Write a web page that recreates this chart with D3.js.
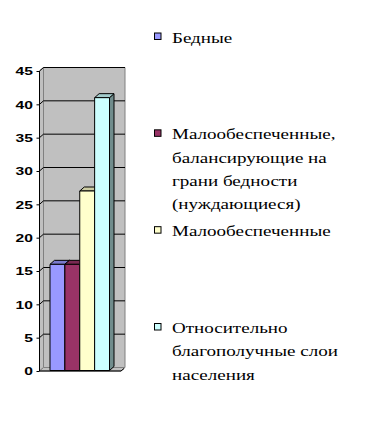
<!DOCTYPE html>
<html>
<head>
<meta charset="utf-8">
<script src="https://cdn.jsdelivr.net/npm/d3@7"></script>
<style>
  html, body { margin: 0; padding: 0; background: #fff; }
  svg { display: block; }
</style>
</head>
<body>
<svg id="chart" width="365" height="443"></svg>
<script>
// series (one category, four groups)
const series = ["Бедные", "Малообеспеченные, балансирующие на грани бедности (нуждающиеся)", "Малообеспеченные", "Относительно благополучные слои населения"];
const legendLines = [
  ["Бедные"],
  ["Малообеспеченные,", "балансирующие на", "грани бедности", "(нуждающиеся)"],
  ["Малообеспеченные"],
  ["Относительно", "благополучные слои", "населения"]
];
const values = [16, 16, 27, 41];
const colors = ["#9999FF", "#993366", "#FFFFCC", "#CCFFFF"];
const yTicks = [0, 5, 10, 15, 20, 25, 30, 35, 40, 45];

const svg = d3.select("#chart");
const SX = 1.36; // the original picture is stretched horizontally

const plot = { x0: 39.5, x1: 121, depthX: 4, depthY: -3.5 };
const y = d3.scaleLinear([0, 45], [371, 71]);
const x = d3.scaleBand(d3.range(series.length), [50, 109.5]).padding(0);

const wallFill = "#C0C0C0", wallStroke = "#808080";
const dx = plot.depthX, dy = plot.depthY;
const line = d3.line();

// back wall
svg.append("path")
  .attr("d", line([[plot.x0 + dx, y(45) + dy], [plot.x1 + dx, y(45) + dy], [plot.x1 + dx, y(0) + dy], [plot.x0 + dx, y(0) + dy]]) + "Z")
  .attr("fill", wallFill).attr("stroke", wallStroke);

// side wall
svg.append("path")
  .attr("d", line([[plot.x0, y(0)], [plot.x0, y(45)], [plot.x0 + dx, y(45) + dy], [plot.x0 + dx, y(0) + dy]]) + "Z")
  .attr("fill", wallFill).attr("stroke", wallStroke);

// floor
svg.append("path")
  .attr("d", line([[plot.x0, y(0)], [plot.x1, y(0)], [plot.x1 + dx, y(0) + dy], [plot.x0 + dx, y(0) + dy]]) + "Z")
  .attr("fill", wallFill).attr("stroke", wallStroke);

// gridlines: slanted on side wall, flat on back wall
const grid = svg.append("g").attr("stroke", "#000").attr("fill", "none");
yTicks.filter(t => t > 0).forEach(t => {
  grid.append("path")
    .attr("d", line([[plot.x0, y(t)], [plot.x0 + dx, y(t) + dy], [plot.x1 + dx, y(t) + dy]]));
});

// bars
const bdx = 4.5, bdy = -4;
const shade = (c, f) => { const r = d3.rgb(c); return d3.rgb(r.r * f, r.g * f, r.b * f).formatHex(); };
const bars = svg.append("g").attr("stroke", "#000").attr("stroke-width", 1).attr("stroke-linejoin", "round");
values.forEach((v, i) => {
  const l = x(i), r = x(i) + x.bandwidth(), t = y(v), b = y(0) - 0.5;
  const g = bars.append("g");
  g.append("path")
    .attr("d", line([[r, b], [r, t], [r + bdx, t + bdy], [r + bdx, b + bdy]]) + "Z")
    .attr("fill", shade(colors[i], 0.55));
  g.append("path")
    .attr("d", line([[l, t], [r, t], [r + bdx, t + bdy], [l + bdx, t + bdy]]) + "Z")
    .attr("fill", shade(colors[i], 0.8));
  g.append("rect")
    .attr("x", l).attr("y", t).attr("width", r - l).attr("height", b - t)
    .attr("fill", colors[i]);
});

// axes lines
svg.append("path")
  .attr("d", line([[plot.x0, y(45)], [plot.x0, y(0)], [plot.x1, y(0)], [plot.x1 + dx - 1, y(0) + dy + 1]]))
  .attr("fill", "none").attr("stroke", "#000");

// y axis ticks and labels
const yAxis = svg.append("g")
  .attr("transform", `translate(${plot.x0},0)`)
  .call(d3.axisLeft(y).tickValues(yTicks).tickSize(3).tickSizeOuter(0).tickPadding(4));
yAxis.select(".domain").remove();
yAxis.selectAll(".tick line").attr("stroke", "#000");
yAxis.selectAll(".tick text")
  .attr("font-family", "'Liberation Sans', Arial, sans-serif")
  .attr("font-weight", "bold")
  .attr("font-size", 11.5)
  .attr("fill", "#000")
  .attr("x", null).attr("dy", null)
  .attr("dominant-baseline", "central")
  .attr("transform", `translate(-6.5,0) scale(${SX},1)`);

// legend
const ly = d3.scalePoint(d3.range(series.length), [42.5, 333]);
const legend = svg.append("g");
legendLines.forEach((lines, i) => {
  const base = ly(i);
  legend.append("rect")
    .attr("x", 154.5).attr("y", base - 9.5).attr("width", 6.5).attr("height", 6.5)
    .attr("fill", colors[i]).attr("stroke", "#000");
  lines.forEach((s, j) => {
    legend.append("text")
      .attr("transform", `translate(172,${base + j * 23.3}) scale(${SX},1)`)
      .attr("font-family", "'Liberation Serif', 'Times New Roman', serif")
      .attr("font-size", 14)
      .attr("fill", "#000")
      .text(s);
  });
});
</script>
</body>
</html>
